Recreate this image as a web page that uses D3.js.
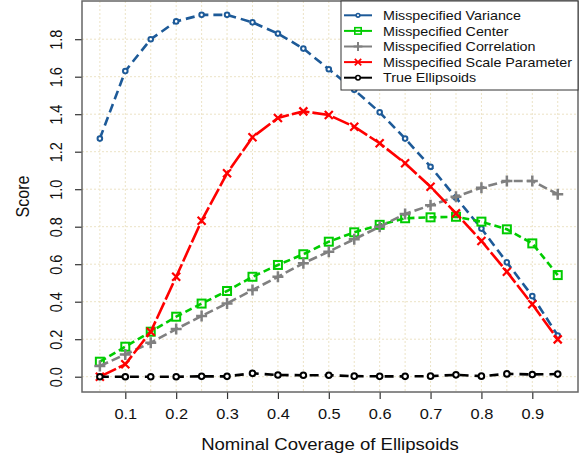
<!DOCTYPE html>
<html>
<head>
<meta charset="utf-8">
<script src="https://cdn.jsdelivr.net/npm/d3@7"></script>
<style>
  body { margin: 0; background: #fff; }
  svg { font-family: "Liberation Sans", Arial, sans-serif; }
</style>
</head>
<body>
<div id="chart"></div>
<script>
// Data
const coverage = [0.05, 0.1, 0.15, 0.2, 0.25, 0.3, 0.35, 0.4, 0.45, 0.5,
  0.55, 0.6, 0.65, 0.7, 0.75, 0.8, 0.85, 0.9, 0.95];
const variance = [1.27, 1.63, 1.80, 1.895, 1.93, 1.93, 1.89, 1.83, 1.75, 1.64,
  1.53, 1.41, 1.27, 1.12, 0.955, 0.79, 0.61, 0.43, 0.22];
const center = [0.08, 0.16, 0.24, 0.32, 0.39, 0.457, 0.533, 0.596, 0.653, 0.72,
  0.77, 0.81, 0.845, 0.85, 0.853, 0.827, 0.786, 0.711, 0.542];
const correlation = [0.057, 0.119, 0.181, 0.254, 0.324, 0.391, 0.462, 0.533, 0.605, 0.667,
  0.733, 0.80, 0.868, 0.914, 0.96, 1.008, 1.044, 1.044, 0.973];
const scaleParam = [0.0, 0.066, 0.24, 0.533, 0.832, 1.085, 1.277, 1.38, 1.415, 1.396,
  1.333, 1.245, 1.138, 1.013, 0.871, 0.724, 0.56, 0.386, 0.199];
const trueEll = [0, 0, 0, 0, 0.002, 0.002, 0.018, 0.009, 0.008, 0.008,
  0.003, 0.002, 0.002, 0.003, 0.01, 0.003, 0.015, 0.012, 0.014];

const seriesNames = ["Misspecified Variance", "Misspecified Center",
  "Misspecified Correlation", "Misspecified Scale Parameter", "True Ellipsoids"];
const xTicks = [0.1, 0.2, 0.3, 0.4, 0.5, 0.6, 0.7, 0.8, 0.9];
const yTicks = [0, 0.2, 0.4, 0.6, 0.8, 1.0, 1.2, 1.4, 1.6, 1.8];
const xGrid = coverage;

const width = 587;
const height = 459;
const box = { left: 82, right: 578, top: 1, bottom: 392 };
const stretch = 1.13; // text in the reference is a bit wide

const series = [
  { name: seriesNames[0], values: variance, color: "#1d5a98", dash: "9,5", mark: "dot" },
  { name: seriesNames[1], values: center, color: "#00cc00", dash: "7,4", mark: "square" },
  { name: seriesNames[2], values: correlation, color: "#808080", dash: "9,4", mark: "plus" },
  { name: seriesNames[3], values: scaleParam, color: "#ff0000", dash: "18,3", mark: "cross" },
  { name: seriesNames[4], values: trueEll, color: "#000000", dash: "9,6", mark: "circle" }
];

const svg = d3.select("#chart")
  .append("svg")
  .attr("width", width)
  .attr("height", height);

// Scales
const x = d3.scaleLinear().domain([0.1, 0.9]).range([125.3, 532.3]);
const y = d3.scaleLinear().domain([0, 1.8]).range([376.7, 39.2]);

// Grid
const grid = svg.append("g")
  .attr("stroke", "#ece3c6")
  .attr("stroke-width", 1)
  .attr("stroke-dasharray", "2,2");
grid.selectAll(".gx")
  .data(xGrid)
  .enter()
  .append("line")
  .attr("x1", (d) => x(d))
  .attr("x2", (d) => x(d))
  .attr("y1", box.top)
  .attr("y2", box.bottom);
grid.selectAll(".gy")
  .data(yTicks)
  .enter()
  .append("line")
  .attr("x1", box.left)
  .attr("x2", box.right)
  .attr("y1", (d) => y(d))
  .attr("y2", (d) => y(d));

// X axis
const xAxis = svg.append("g")
  .attr("transform", `translate(0, ${box.bottom})`)
  .call(d3.axisBottom(x).tickValues(xTicks).tickFormat(d3.format(".1f")).tickSize(7).tickPadding(0));
xAxis.select(".domain").remove();
xAxis.selectAll(".tick line").attr("stroke", "#333").attr("stroke-width", 1.2);
xAxis.selectAll(".tick text")
  .attr("y", 0)
  .attr("dy", 0)
  .attr("transform", `translate(0, 27) scale(${stretch}, 1)`)
  .attr("font-size", 14.5)
  .attr("fill", "#111");

// Y axis
const yAxis = svg.append("g")
  .attr("transform", `translate(${box.left}, 0)`)
  .call(d3.axisLeft(y).tickValues(yTicks).tickFormat(d3.format(".1f")).tickSize(7));
yAxis.select(".domain").remove();
yAxis.selectAll(".tick line").attr("stroke", "#333").attr("stroke-width", 1.2);
yAxis.selectAll(".tick text")
  .attr("x", 0)
  .attr("dy", 0)
  .attr("text-anchor", "middle")
  .attr("transform", `translate(-20.5, 0) scale(${stretch}, 1) rotate(-90)`)
  .attr("font-size", 14.5)
  .attr("fill", "#111");

// Axis titles
svg.append("text")
  .attr("transform", `translate(${(box.left + box.right) / 2}, 450) scale(1.16, 1)`)
  .attr("text-anchor", "middle")
  .attr("font-size", 16)
  .attr("fill", "#111")
  .text("Nominal Coverage of Ellipsoids");

svg.append("text")
  .attr("transform", `translate(28.5, ${(box.top + box.bottom) / 2}) scale(1.16, 1) rotate(-90)`)
  .attr("text-anchor", "middle")
  .attr("font-size", 16)
  .attr("fill", "#111")
  .text("Score");

// Marker drawing
function drawMark(g, kind, color) {
  if (kind === "dot") {
    g.append("circle").attr("r", 2.3).attr("fill", "#fff")
      .attr("stroke", color).attr("stroke-width", 2);
  } else if (kind === "square") {
    g.append("rect").attr("x", -4).attr("y", -4).attr("width", 8).attr("height", 8)
      .attr("fill", "none").attr("stroke", color).attr("stroke-width", 2);
  } else if (kind === "plus") {
    g.append("path").attr("d", "M-5.5,0H5.5M0,-5.5V5.5")
      .attr("stroke", color).attr("stroke-width", 2.5);
  } else if (kind === "cross") {
    g.append("path").attr("d", "M-4,-4L4,4M-4,4L4,-4")
      .attr("stroke", color).attr("stroke-width", 2.2);
  } else {
    g.append("circle").attr("r", 2.8).attr("fill", "#fff")
      .attr("stroke", color).attr("stroke-width", 2);
  }
}

const line = d3.line()
  .x((d) => x(d[0]))
  .y((d) => y(d[1]));

// Series lines + points
series.forEach((s) => {
  const pts = coverage.map((c, i) => [c, s.values[i]]);
  svg.append("path")
    .datum(pts)
    .attr("fill", "none")
    .attr("stroke", s.color)
    .attr("stroke-width", 2.6)
    .attr("stroke-dasharray", s.dash)
    .attr("d", line);
  svg.append("g")
    .selectAll("g")
    .data(pts)
    .enter()
    .append("g")
    .attr("transform", (d) => `translate(${x(d[0])}, ${y(d[1])})`)
    .each(function () { drawMark(d3.select(this), s.mark, s.color); });
});

// Plot box
svg.append("rect")
  .attr("x", box.left)
  .attr("y", box.top)
  .attr("width", box.right - box.left)
  .attr("height", box.bottom - box.top)
  .attr("fill", "none")
  .attr("stroke", "#666")
  .attr("stroke-width", 1.5);

// Legend
const legend = svg.append("g").attr("transform", "translate(341, 1)");
legend.append("rect")
  .attr("width", box.right - 341)
  .attr("height", 89)
  .attr("fill", "#fff")
  .attr("stroke", "#333")
  .attr("stroke-width", 1);

const items = legend.selectAll(".legend-item")
  .data(series)
  .enter()
  .append("g")
  .attr("class", "legend-item")
  .attr("transform", (d, i) => `translate(0, ${14.3 + i * 15.6})`);

items.append("line")
  .attr("x1", 3)
  .attr("x2", 31)
  .attr("stroke", (d) => d.color)
  .attr("stroke-width", 2);
items.append("g")
  .attr("transform", "translate(17, 0) scale(0.8)")
  .each(function (d) { drawMark(d3.select(this), d.mark, d.color); });
items.append("text")
  .attr("transform", `translate(42, 4.6) scale(1.1, 1)`)
  .attr("font-size", 13)
  .attr("fill", "#111")
  .text((d) => d.name);
</script>
</body>
</html>
